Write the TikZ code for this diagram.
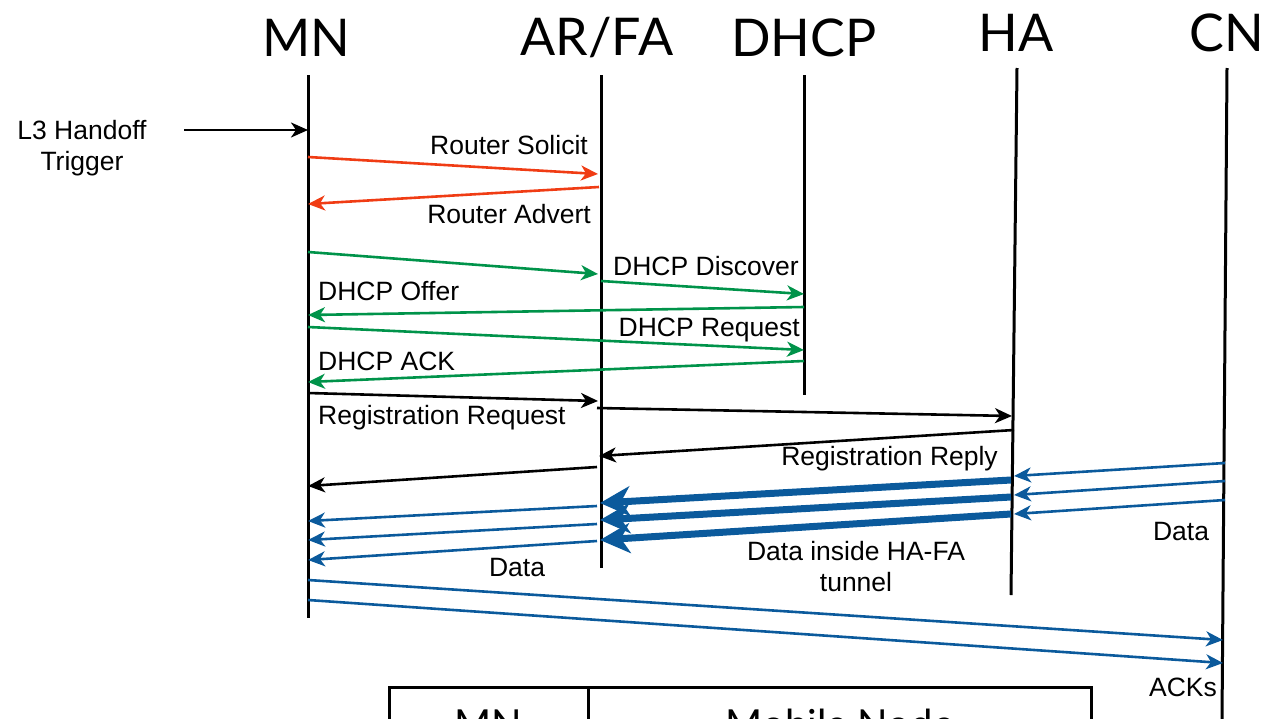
\documentclass[tikz,border=0pt]{standalone}
\usepackage{fontspec}
\setmainfont{Liberation Sans}
\newfontfamily\hdfont{Lato}
\usetikzlibrary{arrows.meta}
\definecolor{msgred}{HTML}{F03C14}
\definecolor{msggreen}{HTML}{00934A}
\definecolor{msgblue}{HTML}{0B5A9C}
\begin{document}
\begin{tikzpicture}[x=1pt,y=-1pt,
  life/.style={line width=3pt,black},
  hdr/.style={font=\hdfont\fontsize{52}{60}\selectfont,inner sep=0pt},
  lbl/.style={font=\fontsize{26.5}{31}\selectfont,inner sep=0pt},
  msg/.style={line width=2.6pt,-{Stealth[length=17pt,width=15pt,inset=5pt]}},
  tun/.style={line width=7pt,msgblue,-{Stealth[length=30pt,width=30pt,inset=9pt]}},
  tbl/.style={font=\hdfont\fontsize{40}{44}\selectfont,inner sep=0pt}]
\useasboundingbox (0,0) rectangle (1269,718);
\clip (0,0) rectangle (1269,718);
% headers
\node[hdr] (hMN) at (306,38) {MN};
\node[hdr] (hAR) at (597,38) {AR/FA};
\node[hdr] (hDH) at (804,38) {DHCP};
\node[hdr] (hHA) at (1016,33) {HA};
\node[hdr] (hCN) at (1227,33) {CN};
% lifelines
\coordinate (mnT) at (308,75); \coordinate (mnB) at (308,618);
\coordinate (arT) at (601,75); \coordinate (arB) at (601,568);
\coordinate (dhT) at (804,75); \coordinate (dhB) at (804,395);
\coordinate (haT) at (1017,68); \coordinate (haB) at (1011,595);
\coordinate (cnT) at (1227,68); \coordinate (cnB) at (1222,720);
\draw[life] (mnT) -- (mnB);
\draw[life] (arT) -- (arB);
\draw[life] (dhT) -- (dhB);
\draw[life] (haT) -- (haB);
\draw[life] (cnT) -- (cnB);
% L3 trigger
\coordinate (trg) at (184,130); \coordinate (trgE) at (308,130);
\draw[msg] (trg) -- (trgE);
\node[lbl,align=center] (tlbl) at (82,148) {L3 Handoff\\Trigger};
% router solicit / advert
\coordinate (rs1) at (308,157); \coordinate (rs2) at (598,174);
\draw[msg,msgred] (rs1) -- (rs2);
\node[lbl,anchor=east] (lrs) at (588,145) {Router Solicit};
\coordinate (ra1) at (599,187); \coordinate (ra2) at (308,204);
\draw[msg,msgred] (ra1) -- (ra2);
\node[lbl,anchor=east] (lra) at (591,214) {Router Advert};
% DHCP
\coordinate (dd1) at (308,252); \coordinate (dd2) at (598,274);
\coordinate (dd3) at (601,281); \coordinate (dd4) at (804,294);
\draw[msg,msggreen] (dd1) -- (dd2);
\draw[msg,msggreen] (dd3) -- (dd4);
\node[lbl,anchor=west] (ldd) at (613,266) {DHCP Discover};
\coordinate (do1) at (804,307); \coordinate (do2) at (308,315);
\draw[msg,msggreen] (do1) -- (do2);
\node[lbl,anchor=west] (ldo) at (318,291) {DHCP Offer};
\coordinate (dr1) at (308,327); \coordinate (dr2) at (804,350);
\draw[msg,msggreen] (dr1) -- (dr2);
\node[lbl,anchor=east] (ldr) at (800,330) {DHCP Request};
\coordinate (da1) at (804,361); \coordinate (da2) at (308,382);
\draw[msg,msggreen] (da1) -- (da2);
\node[lbl,anchor=west] (lda) at (318,361) {DHCP ACK};
% registration
\coordinate (rq1) at (308,393); \coordinate (rq2) at (598,401);
\coordinate (rq3) at (597,408); \coordinate (rq4) at (1012,416);
\draw[msg] (rq1) -- (rq2);
\draw[msg] (rq3) -- (rq4);
\node[lbl,anchor=west] (lrq) at (318,418) {Registration Request};
\coordinate (rp1) at (1014,430); \coordinate (rp2) at (599,456);
\coordinate (rp3) at (597,467); \coordinate (rp4) at (308,486);
\draw[msg] (rp1) -- (rp2);
\draw[msg] (rp3) -- (rp4);
\node[lbl,anchor=east] (lrp) at (998,459) {Registration Reply};
% data CN -> HA
\coordinate (c1a) at (1225,463); \coordinate (c1b) at (1014,476);
\coordinate (c2a) at (1225,481); \coordinate (c2b) at (1014,495);
\coordinate (c3a) at (1225,500); \coordinate (c3b) at (1014,514);
\draw[msg,msgblue] (c1a) -- (c1b);
\draw[msg,msgblue] (c2a) -- (c2b);
\draw[msg,msgblue] (c3a) -- (c3b);
\node[lbl] (ldc) at (1181,532) {Data};
% tunnel HA -> FA
\coordinate (t1a) at (1011,480); \coordinate (t1b) at (600,503);
\coordinate (t2a) at (1011,497); \coordinate (t2b) at (600,520);
\coordinate (t3a) at (1011,514); \coordinate (t3b) at (600,540);
\draw[tun] (t1a) -- (t1b);
\draw[tun] (t2a) -- (t2b);
\draw[tun] (t3a) -- (t3b);
\node[lbl,align=center] (ltun) at (856,567) {Data inside HA-FA\\tunnel};
% data FA -> MN
\coordinate (m1a) at (597,506); \coordinate (m1b) at (308,521);
\coordinate (m2a) at (597,524); \coordinate (m2b) at (308,540);
\coordinate (m3a) at (597,541); \coordinate (m3b) at (308,560);
\draw[msg,msgblue] (m1a) -- (m1b);
\draw[msg,msgblue] (m2a) -- (m2b);
\draw[msg,msgblue] (m3a) -- (m3b);
\node[lbl] (ldm) at (517,568) {Data};
% ACKs
\coordinate (k1a) at (308,580); \coordinate (k1b) at (1223,640);
\coordinate (k2a) at (308,600); \coordinate (k2b) at (1223,663);
\draw[msg,msgblue] (k1a) -- (k1b);
\draw[msg,msgblue] (k2a) -- (k2b);
\node[lbl] (lack) at (1183,687) {ACKs};
% table
\coordinate (tbA) at (389,687); \coordinate (tbB) at (1091,760);
\draw[line width=3pt] (tbA) rectangle (tbB);
\coordinate (tdA) at (588,687); \coordinate (tdB) at (588,760);
\draw[line width=3pt] (tdA) -- (tdB);
\node[tbl,anchor=base] (tMN) at (488,738) {MN};
\node[tbl,anchor=base] (tMob) at (840,738) {Mobile Node};
\end{tikzpicture}
\end{document}
